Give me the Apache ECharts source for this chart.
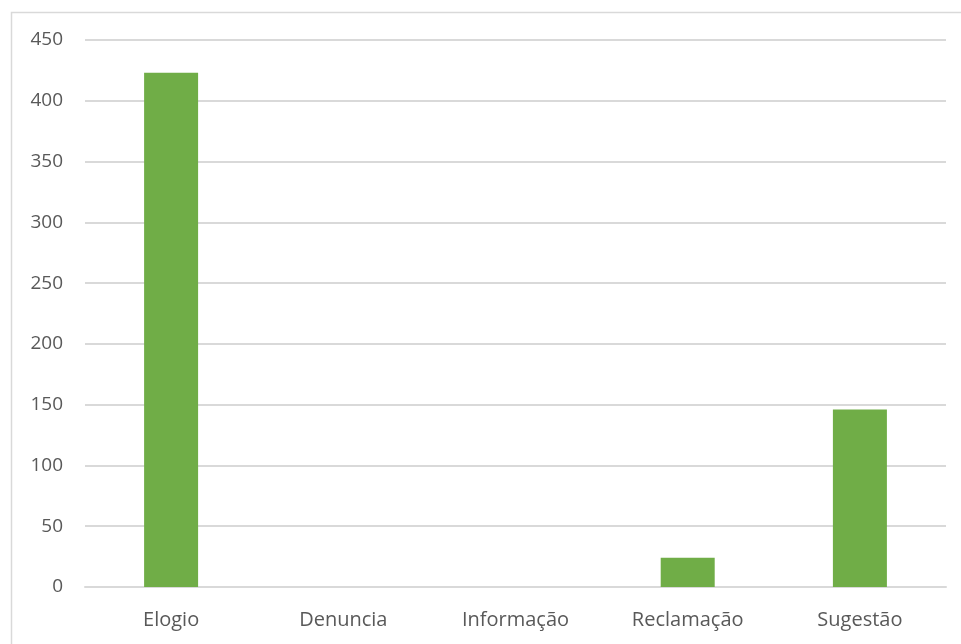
<!DOCTYPE html>
<html>
<head>
<meta charset="utf-8">
<script src="https://cdn.jsdelivr.net/npm/echarts@6/dist/echarts.min.js"></script>
<style>
  html, body { margin: 0; padding: 0; background: #fff; }
  #chart { width: 961px; height: 644px; }
</style>
</head>
<body>
<div id="chart"></div>
<script>
const categories = ['Elogio', 'Denuncia', 'Informação', 'Reclamação', 'Sugestão']
const values = [423, 0, 0, 24, 146]

const chart = echarts.init(document.getElementById('chart'))
chart.setOption({
  animation: false,
  graphic: [{
    type: 'rect', left: 9, top: 10,
    shape: { width: 1000, height: 700 },
    style: { fill: 'none', stroke: '#d9d9d9', lineWidth: 1.5 },
    z: -1
  }],
  grid: { left: 85, right: 15, top: 40, bottom: 57 },
  xAxis: {
    type: 'category', data: categories,
    axisLine: { lineStyle: { color: '#d9d9d9', width: 2 } },
    axisTick: { show: false },
    axisLabel: { color: '#595959', fontSize: 20, fontFamily: 'Open Sans', margin: 23 }
  },
  yAxis: {
    type: 'value', min: 0, max: 450, interval: 50,
    axisLine: { show: false },
    axisTick: { show: false },
    splitLine: { lineStyle: { color: '#d9d9d9', width: 2 } },
    axisLabel: { color: '#595959', fontSize: 19, fontFamily: 'Open Sans', margin: 22 }
  },
  series: [{
    type: 'bar', data: values, barWidth: 54,
    itemStyle: { color: '#70ad47' }
  }]
})
</script>
</body>
</html>
